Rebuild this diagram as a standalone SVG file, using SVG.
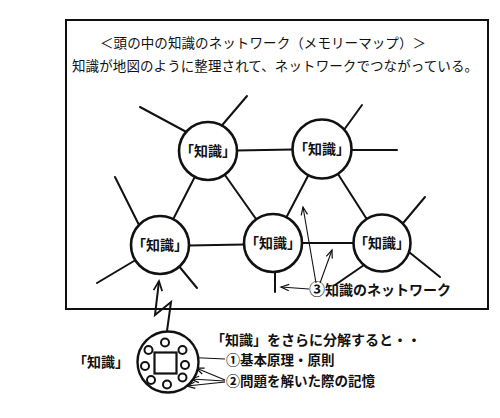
<svg xmlns="http://www.w3.org/2000/svg" width="500" height="418" viewBox="0 0 500 418">
  <style>
    .t { font-family: "Noto Sans CJK JP", "Noto Sans", sans-serif; fill: #111; }
    .title { font-size: 13.5px; font-weight: 400; }
    .lbl { font-size: 14px; font-weight: 700; }
    .sm { font-size: 13.5px; }
    .num { font-size: 16px; }
    .numsm { font-size: 14px; }
    .node circle { fill: #fff; stroke: #111; stroke-width: 2.6; }
    .edge { stroke: #111; stroke-width: 2; fill: none; stroke-linecap: round; }
    .thin { stroke: #111; stroke-width: 1.1; fill: none; marker-end: url(#v); }
  </style>
  <defs>
    <marker id="v" markerUnits="userSpaceOnUse" markerWidth="12" markerHeight="12" viewBox="-10 -5 12 10" refX="0" refY="0" orient="auto">
      <path d="M-8,-3.2 L0,0 L-8,3.2" fill="none" stroke="#111" stroke-width="1.2"/>
    </marker>
    <marker id="vb" markerUnits="userSpaceOnUse" markerWidth="14" markerHeight="14" viewBox="-11 -6 13 12" refX="0" refY="0" orient="auto">
      <path d="M-9,-4 L0,0 L-9,4" fill="none" stroke="#111" stroke-width="1.6"/>
    </marker>
  </defs>
  <rect width="500" height="418" fill="#fff"/>
  <rect x="66" y="20" width="422" height="289" fill="none" stroke="#111" stroke-width="2"/>
  <text class="t title" x="100" y="48" textLength="326">＜頭の中の知識のネットワーク（メモリーマップ）＞</text>
  <text class="t title" x="72" y="71" textLength="406">知識が地図のように整理されて、ネットワークでつながっている。</text>

  <g id="connectors">
    <line class="edge" x1="208" y1="151" x2="322" y2="149"/>
    <line class="edge" x1="208" y1="151" x2="160" y2="245"/>
    <line class="edge" x1="208" y1="151" x2="273" y2="243"/>
    <line class="edge" x1="322" y1="149" x2="273" y2="243"/>
    <line class="edge" x1="322" y1="149" x2="382" y2="243"/>
    <line class="edge" x1="160" y1="246" x2="273" y2="244"/>
    <line class="edge" x1="273" y1="243" x2="382" y2="243"/>
    <!-- spokes -->
    <line class="edge" x1="140" y1="107" x2="192" y2="135"/>
    <line class="edge" x1="247" y1="96" x2="218" y2="130"/>
    <line class="edge" x1="362" y1="105" x2="341" y2="134"/>
    <line class="edge" x1="397" y1="150" x2="345" y2="150"/>
    <line class="edge" x1="115" y1="177" x2="141" y2="229"/>
    <line class="edge" x1="97" y1="283" x2="139" y2="258"/>
    <line class="edge" x1="197" y1="288" x2="178" y2="265"/>
    <line class="edge" x1="275" y1="292" x2="275" y2="266"/>
    <line class="edge" x1="425" y1="197" x2="399" y2="228"/>
    <line class="edge" x1="440" y1="277" x2="404" y2="248"/>
    <line class="edge" x1="335" y1="285" x2="367" y2="263"/>
    <!-- lightning -->
    <polyline points="167,331 171,302 155,315 159,281" fill="none" stroke="#111" stroke-width="2" stroke-linejoin="miter" marker-end="url(#vb)"/>
    <!-- network label arrows -->
    <line class="thin" x1="316" y1="283" x2="303" y2="207"/>
    <line class="thin" x1="320" y1="283" x2="332" y2="250"/>
    <line class="thin" x1="309" y1="289" x2="281" y2="287"/>
    <!-- breakdown arrows -->
    <line class="thin" x1="225" y1="359" x2="181" y2="357"/>
    <line class="thin" x1="225" y1="380" x2="196" y2="368"/>
    <line class="thin" x1="225" y1="381" x2="191" y2="379"/>
    <line class="thin" x1="225" y1="382" x2="187" y2="386"/>
  </g>

  <g id="node1" class="node"><circle cx="208" cy="151" r="29"/><text class="t lbl" x="208" y="156" text-anchor="middle">「知識」</text></g>
  <g id="node2" class="node"><circle cx="322" cy="149" r="29.5"/><text class="t lbl" x="322" y="154" text-anchor="middle">「知識」</text></g>
  <g id="node3" class="node"><circle cx="160" cy="245" r="29"/><text class="t lbl" x="160" y="250" text-anchor="middle">「知識」</text></g>
  <g id="node4" class="node"><circle cx="273" cy="243" r="29"/><text class="t lbl" x="273" y="248" text-anchor="middle">「知識」</text></g>
  <g id="node5" class="node"><circle cx="382" cy="243" r="28.5"/><text class="t lbl" x="382" y="248" text-anchor="middle">「知識」</text></g>

  <g id="net-label"><text class="t lbl" x="309" y="295"><tspan class="num">③</tspan>知識のネットワーク</text></g>

  <g id="detail-node">
    <circle cx="168" cy="362" r="30.5" fill="#fff" stroke="#111" stroke-width="2.4"/>
    <rect x="154.5" y="352.5" width="22" height="21" fill="#fff" stroke="#111" stroke-width="2.2"/>
    <g fill="#fff" stroke="#111" stroke-width="2">
      <circle cx="165" cy="342.5" r="4"/>
      <circle cx="148.5" cy="350" r="4"/>
      <circle cx="182.5" cy="350" r="4"/>
      <circle cx="145" cy="366" r="4"/>
      <circle cx="185" cy="365" r="4"/>
      <circle cx="151" cy="380" r="4"/>
      <circle cx="167" cy="384.5" r="4"/>
      <circle cx="182.5" cy="377.5" r="4"/>
    </g>
  </g>
  <g id="detail-label"><text class="t lbl" x="73" y="367">「知識」</text></g>
  <g id="breakdown">
    <text class="t lbl" x="211" y="344.5">「知識」をさらに分解すると・・</text>
    <text class="t lbl sm" x="226" y="364.5"><tspan class="numsm">①</tspan>基本原理・原則</text>
    <text class="t lbl sm" x="226" y="385.5"><tspan class="numsm">②</tspan>問題を解いた際の記憶</text>
  </g>
</svg>
